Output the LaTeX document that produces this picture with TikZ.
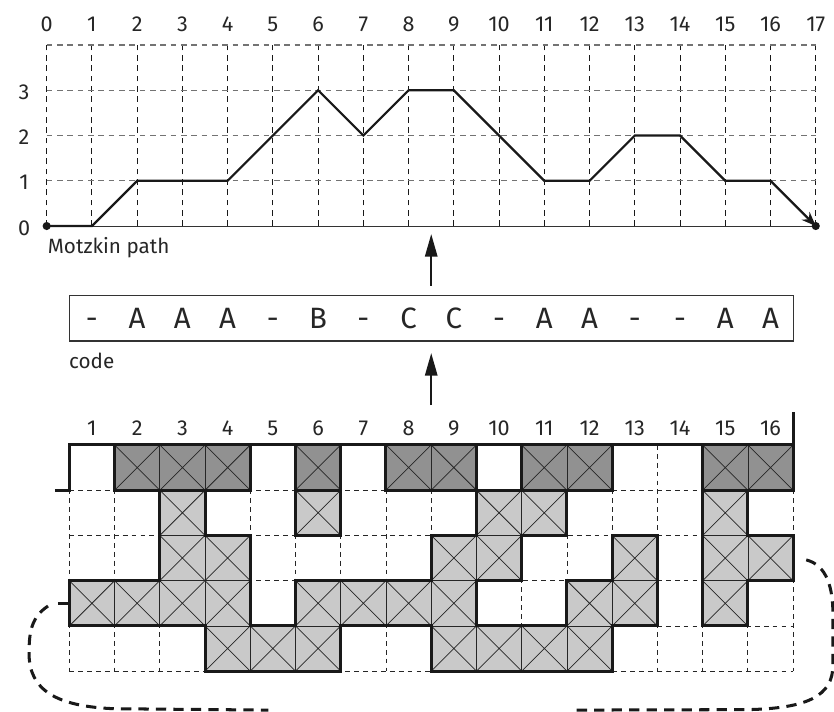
\documentclass[tikz,border=0pt]{standalone}
\usepackage{fontspec}
\setmainfont{Fira Sans}
\usetikzlibrary{arrows.meta}
\definecolor{cdark}{gray}{0.57}
\definecolor{clight}{gray}{0.79}
\begin{document}
\begin{tikzpicture}[x=1cm,y=1cm,
  gridv/.style={black!90, line width=0.6pt, dash pattern=on 3.5pt off 3pt},
  gridh/.style={black!55, line width=0.7pt, dash pattern=on 3.5pt off 3pt},
  bgrid/.style={black!85, line width=0.55pt, dash pattern=on 3pt off 2.6pt},
  mpath/.style={black!90, line width=1.4pt},
  darkcell/.style={fill=cdark, draw=black!85, line width=0.5pt},
  lightcell/.style={fill=clight, draw=black!85, line width=0.5pt},
  xline/.style={black!85, line width=0.45pt},
  thickedge/.style={black!90, line width=1.9pt, line cap=rect},
  wrap/.style={black!90, line width=1.9pt, dash pattern=on 6.5pt off 4.5pt},
  bigarrow/.style={black!90, line width=1.4pt, -{Triangle[length=0.5cm,width=0.27cm]}},
  numlab/.style={font=\fontsize{13.6}{15}\selectfont, inner sep=0pt, text=black!85},
  lab/.style={font=\fontsize{13}{15}\selectfont, inner sep=0pt, text=black!85},
  codelab/.style={font=\fontsize{18.5}{20}\selectfont, inner sep=0pt, text=black!85}
]
\useasboundingbox (-1.032,-10.721) rectangle (17.403,4.996);

% ---------- top grid ----------
\foreach \xi in {0,...,17} \draw[gridv] (\xi,0) -- (\xi,4);
\foreach \yi in {1,...,4} \draw[gridh] (0,\yi) -- (17,\yi);
\draw[black!80, line width=0.6pt] (0,0) -- (17,0);

\foreach \xi in {0,...,17} \node[numlab, anchor=base] (tx\xi) at (\xi,4.295) {\xi};
\foreach \yi in {0,...,3} \node[numlab, anchor=base] (ty\yi) at (-0.5,\yi-0.2) {\yi};

\coordinate (m0) at (0,0);
\coordinate (m17) at (17,0);
\draw[mpath, -{Stealth[length=9pt,width=7pt]}] (m0) -- (1,0) -- (2,1) -- (3,1) -- (4,1) -- (5,2) -- (6,3) -- (7,2) -- (8,3) -- (9,3) -- (10,2) -- (11,1) -- (12,1) -- (13,2) -- (14,2) -- (15,1) -- (16,1) -- (m17);
\fill[black!90] (m0) circle (0.09);
\fill[black!90] (m17) circle (0.09);

\node[lab, anchor=base west] (mlabel) at (0.02,-0.6) {Motzkin path};

% ---------- code box ----------
\node[draw=black!80, line width=0.8pt, minimum width=16.01cm, minimum height=1.01cm, inner sep=0pt, anchor=south west] (codebox) at (0.49,-2.557) {};
\foreach \ch [count=\ii] in {-,A,A,A,-,B,-,C,C,-,A,A,-,-,A,A}
  \node[codelab, anchor=base] (cl\ii) at (\ii,-2.27) {\ch};
\node[lab, anchor=base west] (codelabel) at (0.49,-3.14) {code};

\coordinate (u1) at (8.5,-1.32);
\coordinate (u2) at (8.5,-0.177);
\draw[bigarrow] (u1) -- (u2);
\coordinate (l1) at (8.5,-3.957);
\coordinate (l2) at (8.5,-2.807);
\draw[bigarrow] (l1) -- (l2);

% ---------- bottom grid ----------
\def\Yt{-4.84}
\def\G{{0,0,2,2,2,0,2,0,2,2,0,2,2,0,0,2,2,0,
0,0,0,1,0,0,1,0,0,0,1,1,0,0,0,1,0,0,
0,0,0,1,1,0,0,0,0,1,1,0,0,1,0,1,1,0,
0,1,1,1,1,0,1,1,1,1,0,0,1,1,0,1,0,0,
0,0,0,0,1,1,1,0,0,1,1,1,1,0,0,0,0,0,
0,0,0,0,0,0,0,0,0,0,0,0,0,0,0,0,0,0}}

\foreach \ci in {0,...,16} \draw[bgrid] (\ci+0.5,\Yt) -- (\ci+0.5,\Yt-5);
\foreach \ri in {1,...,5} \draw[bgrid] (0.5,\Yt-\ri) -- (16.5,\Yt-\ri);

\foreach \ri in {0,...,4}{
  \foreach \ci in {1,...,16}{
    \pgfmathtruncatemacro\idxA{\ri*18+\ci}
    \pgfmathtruncatemacro\typA{\G[\idxA]}
    \ifnum\typA=2
      \draw[darkcell] (\ci-0.5,\Yt-\ri) rectangle (\ci+0.5,\Yt-\ri-1);
      \draw[xline] (\ci-0.5,\Yt-\ri) -- (\ci+0.5,\Yt-\ri-1) (\ci-0.5,\Yt-\ri-1) -- (\ci+0.5,\Yt-\ri);
    \fi
    \ifnum\typA=1
      \draw[lightcell] (\ci-0.5,\Yt-\ri) rectangle (\ci+0.5,\Yt-\ri-1);
      \draw[xline] (\ci-0.5,\Yt-\ri) -- (\ci+0.5,\Yt-\ri-1) (\ci-0.5,\Yt-\ri-1) -- (\ci+0.5,\Yt-\ri);
    \fi
  }
}

\foreach \ri in {0,...,4}{
  \foreach \ci in {0,...,16}{
    \pgfmathtruncatemacro\idxA{\ri*18+\ci}
    \pgfmathtruncatemacro\idxB{\ri*18+\ci+1}
    \pgfmathtruncatemacro\typA{\G[\idxA]}
    \pgfmathtruncatemacro\typB{\G[\idxB]}
    \ifnum\typA=\typB\else
      \draw[thickedge] (\ci+0.5,\Yt-\ri) -- (\ci+0.5,\Yt-\ri-1);
    \fi
  }
  \foreach \ci in {1,...,16}{
    \pgfmathtruncatemacro\idxA{\ri*18+\ci}
    \pgfmathtruncatemacro\idxB{\ri*18+18+\ci}
    \pgfmathtruncatemacro\typA{\G[\idxA]}
    \pgfmathtruncatemacro\typB{\G[\idxB]}
    \ifnum\typA=\typB\else
      \draw[thickedge] (\ci-0.5,\Yt-\ri-1) -- (\ci+0.5,\Yt-\ri-1);
    \fi
  }
}

\draw[thickedge, line cap=butt, line join=miter] (0.18,\Yt-1) -- (0.5,\Yt-1) -- (0.5,\Yt) -- (16.5,\Yt) -- (16.5,-4.11);
\draw[thickedge, line cap=butt] (0.25,\Yt-3.5) -- (0.5,\Yt-3.5);

\foreach \ci in {1,...,16} \node[numlab, anchor=base] (bx\ci) at (\ci,-4.62) {\ci};

% ---------- wrap-around dashed curve ----------
\coordinate (wl) at (0.03,-8.40);
\coordinate (wr) at (16.79,-7.38);
\draw[wrap] (wl) .. controls (-0.35,-8.65) and (-0.39,-9.0) .. (-0.39,-9.45)
  .. controls (-0.39,-10.25) and (0.2,-10.62) .. (1.5,-10.67) -- (4.9,-10.70);
\draw[wrap] (wr) .. controls (17.25,-7.5) and (17.38,-8.0) .. (17.38,-8.6) -- (17.38,-9.7)
  .. controls (17.38,-10.4) and (16.8,-10.66) .. (15.5,-10.69) -- (11.7,-10.70);
\end{tikzpicture}
\end{document}
